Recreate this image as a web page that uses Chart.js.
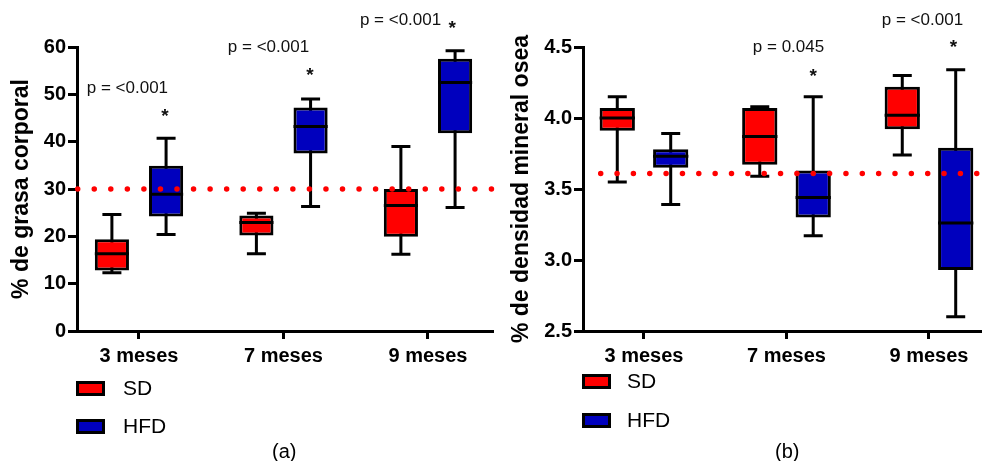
<!DOCTYPE html>
<html>
<head>
<meta charset="utf-8">
<script src="https://cdn.jsdelivr.net/npm/chart.js@4.4.1/dist/chart.umd.min.js"></script>
<style>
  body { margin: 0; background: #fff; font-family: "Liberation Sans", Arial, sans-serif; }
  #wrap { position: relative; width: 982px; height: 461px; overflow: hidden; }
  canvas { position: absolute; top: 0; }
  .sw { position: absolute; width: 29px; height: 15px; border: 3px solid #000; box-sizing: border-box; }
  .lbl { position: absolute; font-size: 21px; line-height: 24px; color: #000; }
  .cap { position: absolute; font-size: 20px; line-height: 24px; color: #000; }
</style>
</head>
<body>
<div id="wrap">
  <canvas id="fat" width="500" height="461" style="left:0"></canvas>
  <canvas id="bone" width="482" height="461" style="left:500px"></canvas>
</div>
<script>
const months = ['3 meses', '7 meses', '9 meses'];
const groups = ['SD', 'HFD'];
const groupColors = ['#FF0000', '#0000BE'];

// each entry: [min, q1, median, q3, max]
const sdFat   = [[12.3, 12.8, 16.3, 19.4, 24.6], [16.3, 20.2, 22.9, 24.4, 24.9], [16.2, 19.9, 26.5, 30.0, 39.0]];
const hfdFat  = [[20.4, 24.2, 28.9, 34.9, 40.7], [26.3, 37.5, 43.2, 47.2, 49.0], [26.1, 41.8, 52.5, 57.5, 59.2]];
const sdBone  = [[3.55, 3.91, 4.00, 4.07, 4.15], [3.59, 3.67, 3.87, 4.07, 4.08], [3.74, 3.92, 4.02, 4.22, 4.30]];
const hfdBone = [[3.39, 3.65, 3.73, 3.78, 3.89], [3.17, 3.30, 3.44, 3.63, 4.15], [2.60, 2.93, 3.26, 3.79, 4.34]];

const fatRef = 30;
const boneRef = 3.61;
const fatP = ['p = <0.001', 'p = <0.001', 'p = <0.001'];
const boneP = ['', 'p = 0.045', 'p = <0.001'];

const FONT = '"Liberation Sans", Arial, sans-serif';
Chart.defaults.font.family = FONT;
Chart.defaults.color = '#000';

// whiskers under the boxes, medians + dotted reference line on top, then the p labels
const boxPlot = {
  id: 'boxPlot',
  beforeDatasetsDraw(chart) {
    const ctx = chart.ctx, y = chart.scales.y;
    ctx.save();
    ctx.strokeStyle = '#000';
    ctx.lineWidth = 3;
    chart.data.datasets.forEach((ds, d) => {
      chart.getDatasetMeta(d).data.forEach((bar, i) => {
        const s = ds.stats[i];
        const x = bar.x;
        const lo = y.getPixelForValue(s[0]), hi = y.getPixelForValue(s[4]);
        ctx.beginPath();
        ctx.moveTo(x, hi); ctx.lineTo(x, lo);
        ctx.moveTo(x - 9.5, hi); ctx.lineTo(x + 9.5, hi);
        ctx.moveTo(x - 9.5, lo); ctx.lineTo(x + 9.5, lo);
        ctx.stroke();
      });
    });
    ctx.restore();
  },
  afterDatasetsDraw(chart, args, opts) {
    const ctx = chart.ctx, y = chart.scales.y, area = chart.chartArea;
    ctx.save();
    ctx.strokeStyle = '#000';
    ctx.lineWidth = 3;
    chart.data.datasets.forEach((ds, d) => {
      chart.getDatasetMeta(d).data.forEach((bar, i) => {
        const m = y.getPixelForValue(ds.stats[i][2]);
        ctx.beginPath();
        ctx.moveTo(bar.x - bar.width / 2, m);
        ctx.lineTo(bar.x + bar.width / 2, m);
        ctx.stroke();
      });
    });
    const ry = y.getPixelForValue(opts.ref);
    ctx.strokeStyle = '#FF0000';
    ctx.lineWidth = 5.5;
    ctx.lineCap = 'round';
    ctx.setLineDash([0, opts.dotGap]);
    ctx.beginPath();
    ctx.moveTo(area.left + opts.dotStart, ry);
    ctx.lineTo(area.right, ry);
    ctx.stroke();
    ctx.restore();
  },
  afterDraw(chart, args, opts) {
    const ctx = chart.ctx, x = chart.scales.x, y = chart.scales.y;
    ctx.save();
    ctx.textAlign = 'center';
    opts.notes.forEach(n => {
      if (!n.text) return;
      const px = x.getPixelForValue(n.x), py = y.getPixelForValue(n.y);
      if (n.text === '*') {
        ctx.font = 'bold 19px ' + FONT;
        ctx.fillStyle = '#111';
        ctx.textBaseline = 'alphabetic';
        ctx.fillText('*', px, py + 0.58 * 19);
      } else {
        ctx.font = '17px ' + FONT;
        ctx.fillStyle = '#111';
        ctx.textBaseline = 'middle';
        ctx.fillText(n.text, px, py);
      }
    });
    ctx.restore();
  }
};

function panel(id, o) {
  const tickFont = { family: FONT, size: 20, weight: 'bold' };
  return new Chart(document.getElementById(id), {
    type: 'bar',
    data: {
      datasets: groups.map((g, k) => ({
        label: g,
        data: o.series[k].map((s, i) => ({ x: i, y: [s[1], s[3]] })),
        stats: o.series[k],
        backgroundColor: groupColors[k],
        borderColor: '#000',
        borderWidth: 3,
        borderSkipped: false,
        categoryPercentage: 0.75,
        barPercentage: o.barPct
      }))
    },
    options: {
      responsive: false,
      animation: false,
      events: [],
      layout: { padding: { top: 47, right: o.padRight, left: 0, bottom: 0 } },
      plugins: {
        legend: { display: false },
        tooltip: { enabled: false },
        boxPlot: { ref: o.ref, dotGap: o.dotGap, dotStart: o.dotStart, notes: o.notes }
      },
      scales: {
        x: {
          type: 'linear',
          offset: false,
          min: o.xMin,
          max: o.xMax,
          afterBuildTicks: s => { s.ticks = months.map((m, i) => ({ value: i })); },
          ticks: { callback: v => months[v], font: tickFont, color: '#000', padding: 5, maxRotation: 0, autoSkip: false },
          grid: { offset: false, drawOnChartArea: false, color: '#000', lineWidth: 3, tickLength: 8 },
          border: { color: '#000', width: 3 },
          afterFit: s => { s.height = 130; }
        },
        y: {
          min: o.yMin,
          max: o.yMax,
          ticks: { stepSize: o.step, callback: o.fmt, font: tickFont, color: '#000', padding: 2 },
          grid: { drawOnChartArea: false, color: '#000', lineWidth: 3, tickLength: 9 },
          border: { color: '#000', width: 3 },
          title: { display: true, text: o.title, color: '#000', font: { family: FONT, size: 23, weight: 'bold' }, padding: { top: 8, bottom: 0 } },
          afterFit: s => { s.width = o.axisLeft; }
        }
      }
    },
    plugins: [boxPlot]
  });
}

const fatChart = panel('fat', {
  series: [sdFat, hfdFat], barPct: 0.63, padRight: 8, axisLeft: 77,
  xMin: -0.429, xMax: 2.443, yMin: 0, yMax: 60, step: 10, fmt: v => v,
  title: '% de grasa corporal', ref: fatRef, dotGap: 16.55, dotStart: 0.7,
  notes: [
    { text: fatP[0], x: -0.08, y: 51.2 }, { text: '*', x: 0.18, y: 46.4 },
    { text: fatP[1], x: 0.896, y: 59.9 }, { text: '*', x: 1.183, y: 55.2 },
    { text: fatP[2], x: 1.81, y: 65.6 }, { text: '*', x: 2.168, y: 65.1 }
  ]
});

const boneChart = panel('bone', {
  series: [sdBone, hfdBone], barPct: 0.66, padRight: 0, axisLeft: 83,
  xMin: -0.428, xMax: 2.372, yMin: 2.5, yMax: 4.5, step: 0.5, fmt: v => v.toFixed(1),
  title: '% de densidad mineral osea', ref: boneRef, dotGap: 16.35, dotStart: 17.7,
  notes: [
    { text: boneP[1], x: 1.014, y: 4.495 }, { text: '*', x: 1.188, y: 4.328 },
    { text: boneP[2], x: 1.954, y: 4.686 }, { text: '*', x: 2.171, y: 4.535 }
  ]
});

// legends and panel captions, built from the chart datasets
const wrap = document.getElementById('wrap');
function addKey(chart, left, tops, textLeft) {
  chart.data.datasets.forEach((ds, k) => {
    const sw = document.createElement('div');
    sw.className = 'sw';
    sw.style.left = left + 'px';
    sw.style.top = tops[k] + 'px';
    sw.style.background = ds.backgroundColor;
    wrap.appendChild(sw);
    const t = document.createElement('div');
    t.className = 'lbl';
    t.textContent = ds.label;
    t.style.left = textLeft + 'px';
    t.style.top = (tops[k] + 7 - 12) + 'px';
    wrap.appendChild(t);
  });
}
addKey(fatChart, 76, [381, 419], 123);
addKey(boneChart, 582, [374, 413], 627);

function addCap(text, cx) {
  const c = document.createElement('div');
  c.className = 'cap';
  c.textContent = text;
  c.style.left = (cx - 12) + 'px';
  c.style.top = '439px';
  wrap.appendChild(c);
}
addCap('(a)', 284);
addCap('(b)', 787);
</script>
</body>
</html>
